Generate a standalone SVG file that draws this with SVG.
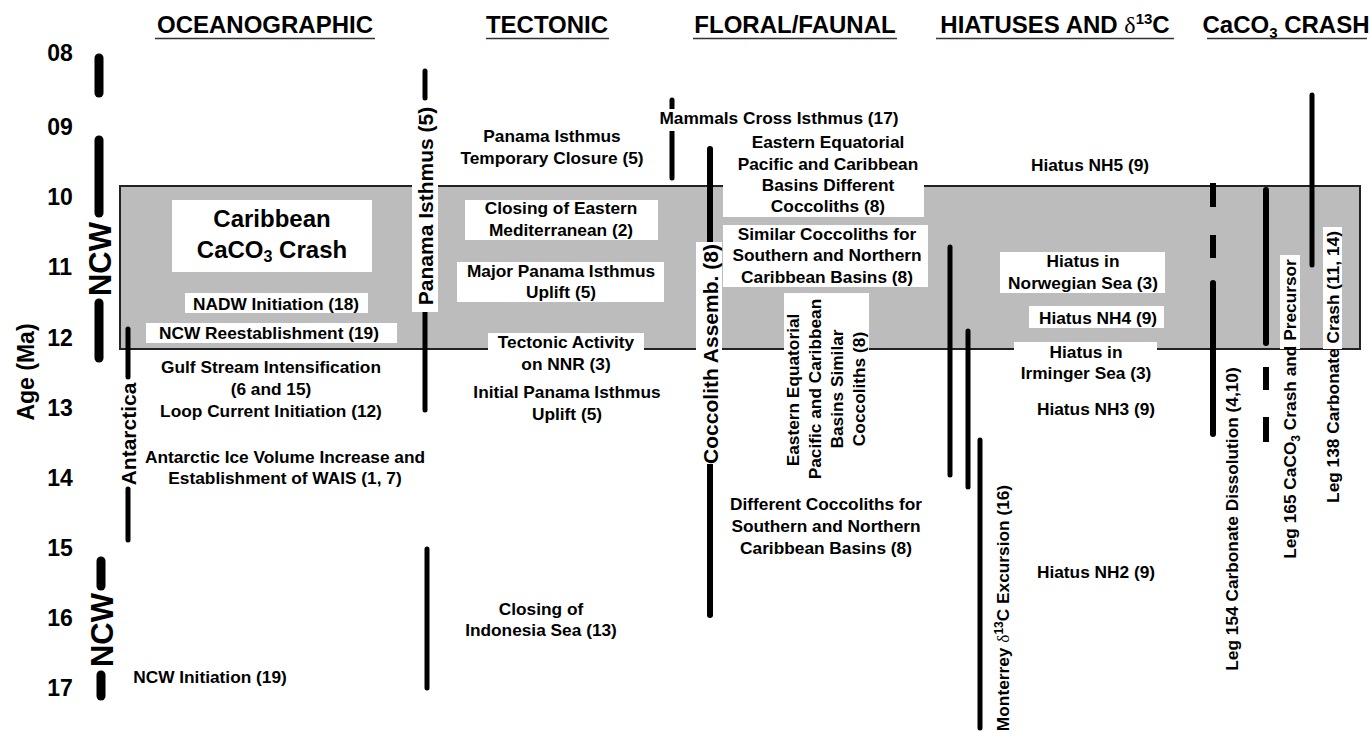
<svg xmlns="http://www.w3.org/2000/svg" width="1371" height="732" viewBox="0 0 1371 732">
<style>
text{font-family:"Liberation Sans",Arial,Helvetica,sans-serif;font-weight:bold;fill:#000}
.t{font-size:17.3px;text-anchor:middle}
.v{font-size:17.3px;text-anchor:middle}
.big{font-size:21px;text-anchor:middle}
.ncw{font-size:31px;text-anchor:middle}
.car{font-size:24px;text-anchor:middle}
.h{font-size:24px;text-anchor:middle}
.ax{font-size:23px;text-anchor:middle}
.ul{stroke:#333;stroke-width:1.6}
.ln{stroke:#000;stroke-width:5;stroke-linecap:round;fill:none}
.th{stroke-width:9}
.w6{stroke-width:6}
.dash{stroke:#000;stroke-width:6;stroke-linecap:butt}
.wb{fill:#fff}
.gr{font-family:"Liberation Serif","DejaVu Serif",serif;font-weight:normal}
</style>

<g id="headers">
<text class="h" x="265" y="33">OCEANOGRAPHIC</text>
<line class="ul" x1="155" y1="38.5" x2="375" y2="38.5"/>
<text class="h" x="547" y="33">TECTONIC</text>
<line class="ul" x1="486" y1="38.5" x2="609" y2="38.5"/>
<text class="h" x="795" y="33">FLORAL/FAUNAL</text>
<line class="ul" x1="693" y1="38.5" x2="897" y2="38.5"/>
<text class="h" x="1055" y="33">HIATUSES AND <tspan class="gr">δ</tspan><tspan font-size="15" dy="-9">13</tspan><tspan dy="9">C</tspan></text>
<line class="ul" x1="936" y1="38.5" x2="1174" y2="38.5"/>
<text class="h" x="1286" y="33">CaCO<tspan font-size="15" dy="5">3</tspan><tspan dy="-5"> CRASH</tspan></text>
<line class="ul" x1="1207" y1="38.5" x2="1367" y2="38.5"/>
</g>

<g id="axis">
<text class="ax" x="60" y="61">08</text>
<text class="ax" x="60" y="135">09</text>
<text class="ax" x="60" y="205">10</text>
<text class="ax" x="60" y="275">11</text>
<text class="ax" x="60" y="346">12</text>
<text class="ax" x="60" y="416">13</text>
<text class="ax" x="60" y="486">14</text>
<text class="ax" x="60" y="556">15</text>
<text class="ax" x="60" y="626">16</text>
<text class="ax" x="60" y="696">17</text>
<text class="ax" transform="translate(34,372) rotate(-90)">Age (Ma)</text>
</g>

<g id="crash-interval">
<rect x="120" y="186" width="1240" height="163" fill="#bcbcbc" stroke="#222" stroke-width="2"/>
</g>

<g id="connectors">
<line class="ln th" x1="99" y1="58" x2="99" y2="93"/>
<line class="ln th" x1="99" y1="140" x2="99" y2="213"/>
<line class="ln th" x1="99" y1="303" x2="99" y2="358"/>
<line class="ln th" x1="101" y1="561" x2="101" y2="586"/>
<line class="ln th" x1="101" y1="675" x2="101" y2="696"/>
<line class="ln" stroke-width="4.5" x1="128" y1="329" x2="128" y2="377"/>
<line class="ln" stroke-width="4.5" x1="128" y1="489" x2="128" y2="540"/>
<line class="ln" x1="425" y1="71" x2="425" y2="98"/>
<line class="ln" x1="425" y1="310" x2="425" y2="410"/>
<line class="ln" x1="427" y1="549" x2="427" y2="688"/>
<line class="ln" x1="672" y1="100" x2="672" y2="178"/>
<line class="ln w6" x1="710" y1="149" x2="710" y2="244"/>
<line class="ln w6" x1="710" y1="465" x2="710" y2="615"/>
<line class="ln" x1="950" y1="247" x2="950" y2="475"/>
<line class="ln" x1="968" y1="331" x2="968" y2="487"/>
<line class="ln" x1="980" y1="440" x2="980" y2="728"/>
<line class="dash" x1="1213" y1="183" x2="1213" y2="207"/>
<line class="dash" x1="1213" y1="235" x2="1213" y2="258"/>
<line class="ln w6" x1="1213" y1="283" x2="1213" y2="434"/>
<line class="ln w6" x1="1266" y1="190" x2="1266" y2="343"/>
<line class="dash" x1="1266" y1="367" x2="1266" y2="390"/>
<line class="dash" x1="1266" y1="417" x2="1266" y2="442"/>
<line class="ln" x1="1312" y1="95" x2="1312" y2="265"/>
</g>

<g id="ncw-upper"><text class="ncw" transform="translate(110.5,259) rotate(-90)">NCW</text></g>
<g id="ncw-lower"><text class="ncw" transform="translate(112.5,630) rotate(-90)">NCW</text></g>
<g id="antarctica"><text class="big" transform="translate(135.5,434) rotate(-90)">Antarctica</text></g>

<g id="caribbean-crash">
<rect class="wb" x="172" y="200" width="200" height="72"/>
<text class="car" x="272" y="227">Caribbean</text>
<text class="car" x="272" y="258">CaCO<tspan font-size="16" dy="4">3</tspan><tspan dy="-4"> Crash</tspan></text>
</g>
<g id="nadw">
<rect class="wb" x="185" y="293" width="183" height="20"/>
<text class="t" x="276" y="310">NADW Initiation (18)</text>
</g>
<g id="ncw-reest">
<rect class="wb" x="146" y="323" width="251" height="20"/>
<text class="t" x="269" y="339">NCW Reestablishment (19)</text>
</g>
<g id="gulf-stream">
<text class="t" x="271" y="373">Gulf Stream Intensification</text>
<text class="t" x="271" y="395">(6 and 15)</text>
</g>
<g id="loop-current"><text class="t" x="271" y="417">Loop Current Initiation (12)</text></g>
<g id="antarctic-ice">
<text class="t" x="285" y="463">Antarctic Ice Volume Increase and</text>
<text class="t" x="285" y="484">Establishment of WAIS (1, 7)</text>
</g>
<g id="ncw-init"><text class="t" x="210" y="683">NCW Initiation (19)</text></g>

<g id="panama">
<rect class="wb" x="412" y="104" width="26" height="208"/>
<text class="big" transform="translate(432.5,206) rotate(-90)">Panama Isthmus (5)</text>
</g>
<g id="panama-temp">
<text class="t" x="552" y="142">Panama Isthmus</text>
<text class="t" x="552" y="164">Temporary Closure (5)</text>
</g>
<g id="med">
<rect class="wb" x="465" y="200" width="193" height="40"/>
<text class="t" x="561" y="214">Closing of Eastern</text>
<text class="t" x="561" y="236">Mediterranean (2)</text>
</g>
<g id="major-uplift">
<rect class="wb" x="457" y="262" width="207" height="40"/>
<text class="t" x="561" y="277">Major Panama Isthmus</text>
<text class="t" x="561" y="298">Uplift (5)</text>
</g>
<g id="nnr">
<rect class="wb" x="488" y="333" width="156" height="18"/>
<text class="t" x="566" y="348">Tectonic Activity</text>
<text class="t" x="566" y="370">on NNR (3)</text>
</g>
<g id="initial-uplift">
<text class="t" x="567" y="398">Initial Panama Isthmus</text>
<text class="t" x="567" y="420">Uplift (5)</text>
</g>
<g id="indonesia">
<text class="t" x="541" y="615">Closing of</text>
<text class="t" x="541" y="636">Indonesia Sea (13)</text>
</g>

<g id="mammals">
<rect class="wb" x="660" y="109" width="240" height="22"/>
<text class="t" x="779" y="124">Mammals Cross Isthmus (17)</text>
</g>
<g id="eep-different">
<rect class="wb" x="723" y="180" width="201" height="37"/>
<text class="t" x="828" y="148">Eastern Equatorial</text>
<text class="t" x="828" y="170">Pacific and Caribbean</text>
<text class="t" x="828" y="191">Basins Different</text>
<text class="t" x="828" y="212">Coccoliths (8)</text>
</g>
<g id="similar-cocco">
<rect class="wb" x="723" y="225" width="205" height="62"/>
<text class="t" x="827" y="240">Similar Coccoliths for</text>
<text class="t" x="827" y="261">Southern and Northern</text>
<text class="t" x="827" y="283">Caribbean Basins (8)</text>
</g>
<g id="coccolith-assemb">
<rect class="wb" x="696" y="242" width="26" height="222"/>
<text class="big" transform="translate(717.5,354) rotate(-90)">Coccolith Assemb. (8)</text>
</g>
<g id="eep-similar">
<rect class="wb" x="784" y="293" width="85" height="190"/>
<text class="v" transform="translate(799,390) rotate(-90)">Eastern Equatorial</text>
<text class="v" transform="translate(821,389) rotate(-90)">Pacific and Caribbean</text>
<text class="v" transform="translate(843,389) rotate(-90)">Basins Similar</text>
<text class="v" transform="translate(865,389) rotate(-90)">Coccoliths (8)</text>
</g>
<g id="different-cocco">
<text class="t" x="826" y="510">Different Coccoliths for</text>
<text class="t" x="826" y="532">Southern and Northern</text>
<text class="t" x="826" y="554">Caribbean Basins (8)</text>
</g>

<g id="nh5"><text class="t" x="1090" y="171">Hiatus NH5 (9)</text></g>
<g id="norwegian">
<rect class="wb" x="1000" y="252" width="165" height="41"/>
<text class="t" x="1083" y="267">Hiatus in</text>
<text class="t" x="1083" y="289">Norwegian Sea (3)</text>
</g>
<g id="nh4">
<rect class="wb" x="1029" y="306" width="135" height="22"/>
<text class="t" x="1098" y="324">Hiatus NH4 (9)</text>
</g>
<g id="irminger">
<rect class="wb" x="1014" y="342" width="143" height="9"/>
<text class="t" x="1086" y="358">Hiatus in</text>
<text class="t" x="1086" y="379">Irminger Sea (3)</text>
</g>
<g id="nh3"><text class="t" x="1096" y="415">Hiatus NH3 (9)</text></g>
<g id="nh2"><text class="t" x="1096" y="578">Hiatus NH2 (9)</text></g>
<g id="monterrey">
<text class="v" transform="translate(1009,608) rotate(-90)">Monterrey <tspan class="gr">δ</tspan><tspan font-size="12" dy="-6">13</tspan><tspan dy="6">C Excursion (16)</tspan></text>
</g>

<g id="leg154"><text class="v" transform="translate(1238,519) rotate(-90)">Leg 154 Carbonate Dissolution (4,10)</text></g>
<g id="leg165">
<rect class="wb" x="1280" y="255" width="20" height="94"/>
<text class="v" transform="translate(1296,409) rotate(-90)">Leg 165 CaCO<tspan font-size="12" dy="4">3</tspan><tspan dy="-4"> Crash and Precursor</tspan></text>
</g>
<g id="leg138">
<rect class="wb" x="1323" y="227" width="19" height="122"/>
<text class="v" transform="translate(1339,367) rotate(-90)">Leg 138 Carbonate Crash (11, 14)</text>
</g>
</svg>
